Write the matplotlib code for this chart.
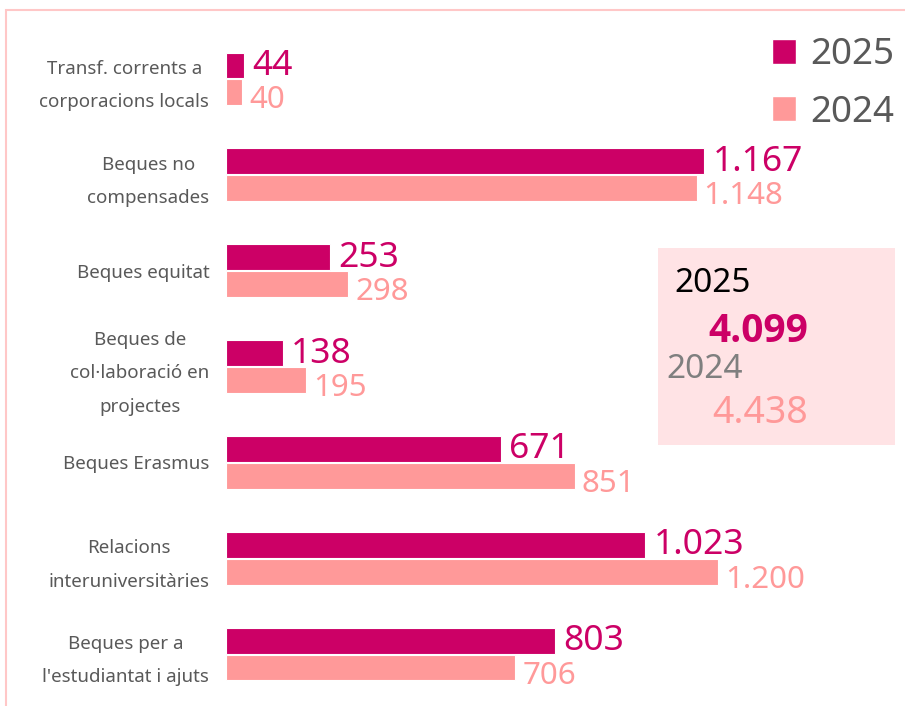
import matplotlib
matplotlib.use('Agg')
import matplotlib.pyplot as plt
import matplotlib.transforms as mtransforms
import numpy as np
from matplotlib.patches import Rectangle, Patch

plt.rcParams['font.family'] = ['Noto Sans', 'DejaVu Sans']

# data
categories = ["Transf. corrents a\ncorporacions locals",
              "Beques no\ncompensades",
              "Beques equitat",
              "Beques de\ncol·laboració en\nprojectes",
              "Beques Erasmus",
              "Relacions\ninteruniversitàries",
              "Beques per a\nl'estudiantat i ajuts"]
values_2025 = [44, 1167, 253, 138, 671, 1023, 803]
values_2024 = [40, 1148, 298, 195, 851, 1200, 706]
series_names = ["2025", "2024"]
total_2025 = 4099
total_2024 = 4438

c25 = '#CC0066'
c24 = '#FF9999'
grey = '#595959'

def fmt(v):
    return f"{v:,}".replace(',', '.')

W, H = 905, 706
fig = plt.figure(figsize=(W / 100, H / 100), dpi=100)

# outer frame (only top and left are visible in the reference)
fig.patches.append(Rectangle((6 / W, -0.1), 1.2, 1 - 10 / H + 0.1, transform=fig.transFigure,
                             fill=False, edgecolor='#FFC7C7', linewidth=1.5))

ax = fig.add_axes([226 / W, 1 - 702 / H, (W - 226) / W, (702 - 31) / H])
y = np.arange(len(categories))
bh = 0.27
ax.barh(y - bh / 2 - 0.005, values_2025, height=bh, color=c25, edgecolor='white', linewidth=0.8)
ax.barh(y + bh / 2 + 0.005, values_2024, height=bh, color=c24, edgecolor='white', linewidth=0.8)

ax.set_xlim(0, 1656)
ax.set_ylim(len(categories) - 0.5, -0.5)

for i in range(len(categories)):
    ax.annotate(fmt(values_2025[i]), (values_2025[i], i - bh / 2 + 0.0), xytext=(6, 0),
                textcoords='offset points', va='center', ha='left', fontsize=25.5, color=c25)
    ax.annotate(fmt(values_2024[i]), (values_2024[i], i + bh / 2 + 0.09), xytext=(5, 0),
                textcoords='offset points', va='center', ha='left', fontsize=22.5, color=c24)

ax.set_yticks(y)
ax.set_yticklabels(categories, fontsize=13.5, color=grey, linespacing=2.1, multialignment='center')
ax.tick_params(axis='y', length=0, pad=12)
# multi-line labels sit a little high in the reference
shift = mtransforms.ScaledTranslation(0, 3 / 100, fig.dpi_scale_trans)
for lab in ax.get_yticklabels():
    if '\n' in lab.get_text():
        lab.set_transform(lab.get_transform() + shift)
ax.set_xticks([])
for s in ax.spines.values():
    s.set_visible(False)

# legend
handles = [Patch(facecolor=c25, edgecolor='white'), Patch(facecolor=c24, edgecolor='white')]
fig.legend(handles, series_names, loc='upper right', bbox_to_anchor=(1.025, 0.994), frameon=False,
           fontsize=26.5, labelcolor=grey, handlelength=0.65, handleheight=0.65, handletextpad=0.4,
           labelspacing=0.58)

# totals box
fig.patches.append(Rectangle((658 / W, 1 - 445 / H), (895 - 658) / W, (445 - 248) / H,
                             transform=fig.transFigure, facecolor='#FFE3E5', edgecolor='none'))
fig.text(674 / W, 1 - 284 / H, series_names[0], fontsize=24, color='black', va='center')
fig.text(708 / W, 1 - 331 / H, fmt(total_2025), fontsize=28, color=c25, va='center',
         fontweight='bold', family=['Open Sans', 'DejaVu Sans'])
fig.text(666 / W, 1 - 370 / H, series_names[1], fontsize=24, color='#7F7F7F', va='center')
fig.text(712 / W, 1 - 413 / H, fmt(total_2024), fontsize=27, color=c24, va='center')

plt.savefig('out.png', dpi=100)
